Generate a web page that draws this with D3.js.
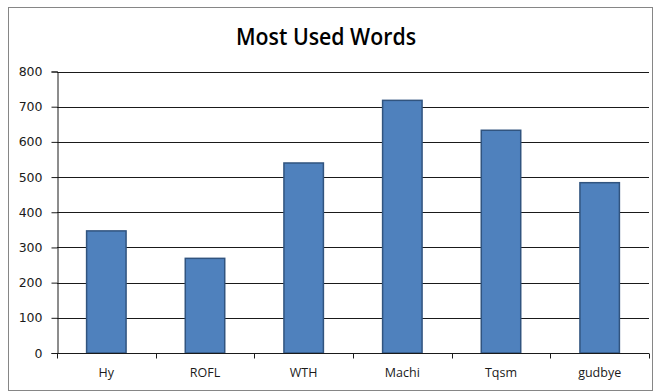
<!DOCTYPE html>
<html>
<head>
<meta charset="utf-8">
<script src="https://cdn.jsdelivr.net/npm/d3@7"></script>
<style>
  html, body { margin: 0; padding: 0; background: #fff; }
  svg { display: block; }
</style>
</head>
<body>
<script>
// Word counts
const categories = ["Hy", "ROFL", "WTH", "Machi", "Tqsm", "gudbye"];
const counts = [347, 269, 540, 718, 633, 484];
const yTicks = [0, 100, 200, 300, 400, 500, 600, 700, 800];
const title = "Most Used Words";

const W = 655, H = 392;
const plot = { left: 57, right: 649, top: 71.5, bottom: 353 };

const svg = d3.select("body").append("svg")
  .attr("width", W).attr("height", H);

// chart frame
svg.append("rect")
  .attr("x", 8.5).attr("y", 7.5)
  .attr("width", 644).attr("height", 383)
  .attr("fill", "#fff").attr("stroke", "#868686").attr("stroke-width", 1);

svg.append("text")
  .attr("x", 326).attr("y", 45)
  .attr("text-anchor", "middle")
  .attr("font-family", "'Open Sans', sans-serif")
  .attr("font-size", 24)
  .attr("font-weight", 600)
  .attr("textLength", 180)
  .attr("lengthAdjust", "spacingAndGlyphs")
  .attr("fill", "#000")
  .text(title);

const x = d3.scaleBand().domain(categories).range([plot.left, plot.right]).padding(0);
const y = d3.scaleLinear().domain([0, 800]).range([plot.bottom, plot.top]);

// horizontal gridlines
svg.append("g")
  .selectAll("line").data(yTicks.filter(d => d > 0)).join("line")
  .attr("x1", plot.left).attr("x2", plot.right)
  .attr("y1", d => Math.round(y(d)) + 0.5).attr("y2", d => Math.round(y(d)) + 0.5)
  .attr("stroke", "#1a1a1a").attr("stroke-width", 1);

// bars
const barW = x.bandwidth() * 0.4;
svg.append("g")
  .selectAll("rect").data(categories).join("rect")
  .attr("x", d => x(d) + (x.bandwidth() - barW) / 2)
  .attr("y", (d, i) => y(counts[i]))
  .attr("width", barW)
  .attr("height", (d, i) => y(0) - y(counts[i]))
  .attr("fill", "#4F81BD")
  .attr("stroke", "#31547F").attr("stroke-width", 1.5);

// y axis
const yAxis = svg.append("g")
  .attr("transform", `translate(${plot.left + 0.5},0)`)
  .call(d3.axisLeft(y).tickValues(yTicks).tickSize(6).tickPadding(9).tickFormat(d3.format("d")));
yAxis.select(".domain").attr("stroke", "#1a1a1a");
yAxis.selectAll(".tick line").attr("stroke", "#1a1a1a");
yAxis.selectAll("text")
  .attr("font-family", "'DejaVu Sans', Verdana, sans-serif")
  .attr("font-size", 12.5).attr("fill", "#1a1a1a");

// x axis with boundary ticks between categories
const xAxis = svg.append("g")
  .attr("transform", `translate(0,${Math.round(plot.bottom) + 0.5})`);
xAxis.append("line")
  .attr("x1", plot.left).attr("x2", plot.right)
  .attr("stroke", "#1a1a1a");
const bounds = categories.map(c => x(c) + x.bandwidth()).concat([plot.left]);
xAxis.selectAll("line.tk").data(bounds).join("line")
  .attr("class", "tk")
  .attr("x1", d => Math.round(d) + 0.5).attr("x2", d => Math.round(d) + 0.5)
  .attr("y1", 0).attr("y2", 5)
  .attr("stroke", "#1a1a1a");
xAxis.selectAll("text").data(categories).join("text")
  .attr("x", d => x(d) + x.bandwidth() / 2)
  .attr("y", 23.5)
  .attr("text-anchor", "middle")
  .attr("font-family", "'Open Sans', sans-serif")
  .attr("font-size", 12.5)
  .attr("fill", "#1a1a1a")
  .text(d => d);
</script>
</body>
</html>
